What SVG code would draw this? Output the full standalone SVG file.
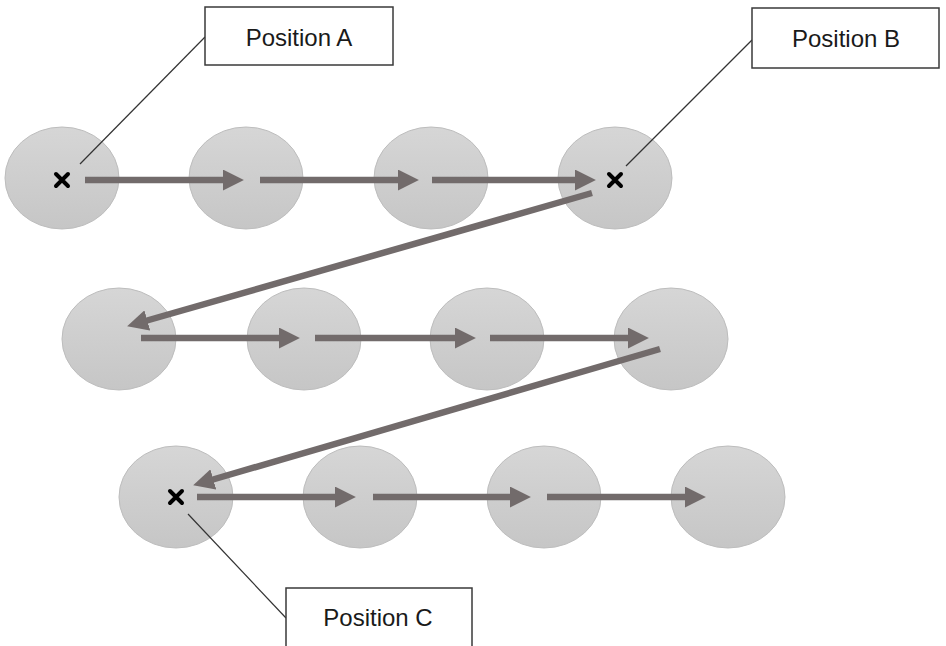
<svg xmlns="http://www.w3.org/2000/svg" width="946" height="646" viewBox="0 0 946 646">
<defs>
<linearGradient id="g" x1="0" y1="0" x2="0" y2="1">
<stop offset="0" stop-color="#d6d6d6"/>
<stop offset="1" stop-color="#c6c6c6"/>
</linearGradient>
<marker id="ah" markerUnits="userSpaceOnUse" viewBox="0 0 20 20" markerWidth="21" markerHeight="21" refX="2" refY="10" orient="auto">
<path d="M0,0 L20,10 L0,20 z" fill="#726b6b"/>
</marker>
<g id="xm"><path d="M-6,-6 L6,6 M6,-6 L-6,6" stroke="#000" stroke-width="4" stroke-linecap="round"/></g>
</defs>
<style>
.c{fill:url(#g);stroke:#bdbdbd;stroke-width:1}
.a{stroke:#726b6b;stroke-width:6.5;fill:none;marker-end:url(#ah)}
.b{fill:#fff;stroke:#3a3a3a;stroke-width:1.5}
.l{stroke:#333;stroke-width:1.2;fill:none}
.t{font-family:"Liberation Sans",Arial,sans-serif;font-size:24px;fill:#1a1a1a;text-anchor:middle}
</style>
<rect width="946" height="646" fill="#fff"/>
<g id="n1"><ellipse class="c" cx="62" cy="178" rx="57" ry="51"/><use href="#xm" x="62" y="180"/></g>
<g id="n2"><ellipse class="c" cx="246" cy="178" rx="57" ry="51"/></g>
<g id="n3"><ellipse class="c" cx="431" cy="178" rx="57" ry="51"/></g>
<g id="n4"><ellipse class="c" cx="615" cy="178" rx="57" ry="51"/><use href="#xm" x="615" y="180"/></g>
<g id="n5"><ellipse class="c" cx="119" cy="339" rx="57" ry="51"/></g>
<g id="n6"><ellipse class="c" cx="304" cy="339" rx="57" ry="51"/></g>
<g id="n7"><ellipse class="c" cx="487" cy="339" rx="57" ry="51"/></g>
<g id="n8"><ellipse class="c" cx="671" cy="339" rx="57" ry="51"/></g>
<g id="n9"><ellipse class="c" cx="176" cy="497" rx="57" ry="51"/><use href="#xm" x="176" y="497"/></g>
<g id="n10"><ellipse class="c" cx="360" cy="497" rx="57" ry="51"/></g>
<g id="n11"><ellipse class="c" cx="544" cy="497" rx="57" ry="51"/></g>
<g id="n12"><ellipse class="c" cx="728" cy="497" rx="57" ry="51"/></g>
<g id="connectors">
<line class="a" x1="85" y1="180" x2="225" y2="180"/>
<line class="a" x1="260" y1="180" x2="400" y2="180"/>
<line class="a" x1="432" y1="180" x2="577" y2="180"/>
<line class="a" x1="592" y1="193" x2="145.3" y2="321"/>
<line class="a" x1="141" y1="338" x2="281" y2="338"/>
<line class="a" x1="315" y1="338" x2="457" y2="338"/>
<line class="a" x1="490" y1="338" x2="630" y2="338"/>
<line class="a" x1="660" y1="349" x2="211.3" y2="480"/>
<line class="a" x1="197" y1="497" x2="337" y2="497"/>
<line class="a" x1="373" y1="497" x2="512" y2="497"/>
<line class="a" x1="547" y1="497" x2="687" y2="497"/>
<line class="l" x1="205" y1="37" x2="80" y2="164"/>
<line class="l" x1="752" y1="40" x2="626" y2="166"/>
<line class="l" x1="188" y1="514" x2="286" y2="618"/>
</g>
<g id="labelA"><rect class="b" x="205" y="7" width="188" height="58"/><text class="t" x="299" y="46">Position A</text></g>
<g id="labelB"><rect class="b" x="752" y="8" width="187" height="60"/><text class="t" x="846" y="47">Position B</text></g>
<g id="labelC"><rect class="b" x="286" y="588" width="186" height="70"/><text class="t" x="378" y="626">Position C</text></g>
</svg>
